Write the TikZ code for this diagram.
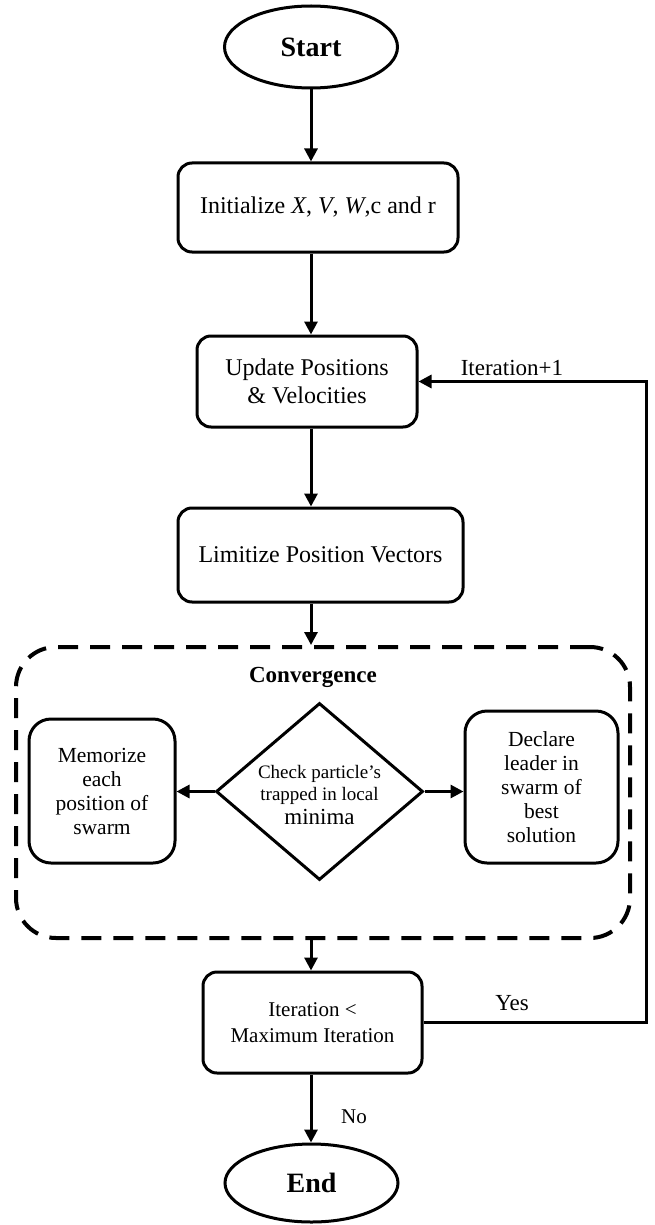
\documentclass[tikz,border=0pt]{standalone}
\usepackage{fontspec}
\setmainfont{Liberation Serif}
\usetikzlibrary{shapes.geometric,arrows.meta}
\begin{document}
\begin{tikzpicture}[x=1pt,y=-1pt,
  line width=3pt,
  arr/.style={-{Triangle[length=13pt,width=13pt]}},
  box/.style={draw,rounded corners=14pt,align=center,inner sep=0pt,font=\fontsize{24}{28}\selectfont},
  sidebox/.style={draw,rounded corners=22pt,align=center,inner sep=0pt,font=\fontsize{21.5}{24}\selectfont},
  term/.style={draw,ellipse,inner sep=0pt,font=\fontsize{28}{32}\selectfont\bfseries},
  lbl/.style={inner sep=0pt,font=\fontsize{23}{26}\selectfont},
  ]
\useasboundingbox (0,0) rectangle (654,1225);
\coordinate (ax) at (311,0);
\coordinate (rc) at (646,0);

\node[term,minimum width=173pt,minimum height=82pt] (start) at (311,47) {Start};
\node[box,minimum width=280pt,minimum height=89pt] (init) at (318,207.5) {Initialize \textit{X}, \textit{V}, \textit{W},c and r};
\node[box,minimum width=220pt,minimum height=91pt] (upd) at (307,381.5) {Update Positions\\\& Velocities};
\node[box,minimum width=285pt,minimum height=94pt] (lim) at (320.5,555) {Limitize Position Vectors};

\node[draw,rectangle,rounded corners=40pt,line width=4pt,dash pattern=on 20pt off 12pt,minimum width=614pt,minimum height=291pt,inner sep=0pt] (conv) at (323,792.5) {};
\node[inner sep=0pt,font=\fontsize{23}{27}\selectfont\bfseries] (convt) at (313,677) {Convergence};

\node[sidebox,minimum width=146pt,minimum height=144pt] (mem) at (102,791) {Memorize\\each\\position of\\swarm};
\node[draw,diamond,minimum width=207pt,minimum height=177pt,inner sep=0pt] (chk) at (319.5,791.5) {};
\node[align=center,inner sep=0pt,font=\fontsize{19}{22}\selectfont] (chkt) at (319.5,795) {Check particle’s\\trapped in local\\[2pt]{\fontsize{23}{26}\selectfont minima}};
\node[sidebox,minimum width=153pt,minimum height=152pt] (dec) at (541.5,787) {Declare\\leader in\\swarm of\\best\\solution};

\node[box,minimum width=219pt,minimum height=101pt,font=\fontsize{21}{26}\selectfont] (iter) at (312.5,1022.5) {Iteration <\\Maximum Iteration};
\node[term,minimum width=173pt,minimum height=78pt] (end) at (311.5,1183) {End};

\draw[arr] (start.south -| ax) -- (init.north -| ax);
\draw[arr] (init.south -| ax) -- (upd.north -| ax);
\draw[arr] (upd.south -| ax) -- (lim.north -| ax);
\draw[arr] (lim.south -| ax) -- (conv.north -| ax);
\draw[arr] (chk.west) -- (chk.west -| mem.east);
\draw[arr] (chk.east) -- (chk.east -| dec.west);
\draw[arr] (conv.south -| ax) -- (iter.north -| ax);
\draw[arr] (iter.south -| ax) -- (end.north -| ax);
\draw[arr] (iter.east) -- (iter.east -| rc) -- (upd.east -| rc) -- (upd.east);

\node[lbl] (itp) at (512,368) {Iteration+1};
\node[lbl] (yes) at (512,1003) {Yes};
\node[lbl,font=\fontsize{21}{25}\selectfont] (no) at (354,1117) {No};
\end{tikzpicture}
\end{document}
